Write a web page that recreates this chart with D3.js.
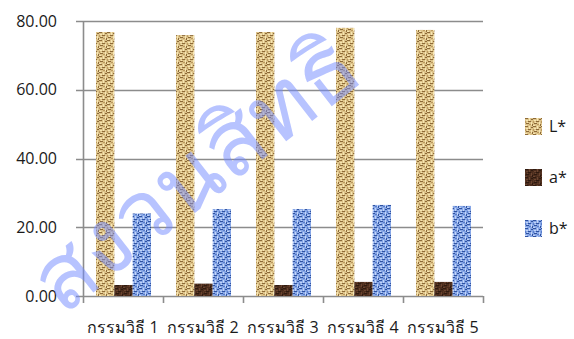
<!DOCTYPE html>
<html>
<head>
<meta charset="utf-8">
<script src="https://cdn.jsdelivr.net/npm/d3@7"></script>
<style>
  html, body { margin: 0; padding: 0; background: #fff; }
  svg { display: block; }
  text { font-family: "Open Sans", "Noto Sans", sans-serif; }
</style>
</head>
<body>
<svg id="chart" width="574" height="339"></svg>
<script>
// Colour measurements per treatment
const categories = ["กรรมวิธี 1", "กรรมวิธี 2", "กรรมวิธี 3", "กรรมวิธี 4", "กรรมวิธี 5"];
const series = ["L*", "a*", "b*"];
const lValues = [76.8, 75.9, 76.8, 78.0, 77.4];
const aValues = [3.2, 3.6, 3.2, 4.1, 4.1];
const bValues = [24.0, 25.3, 25.3, 26.5, 26.2];
const yTicks = [0, 20, 40, 60, 80];
const watermarkText = "สงวนสิทธิ";

const valuesBySeries = { "L*": lValues, "a*": aValues, "b*": bValues };

const W = 574, H = 339;
const svg = d3.select("#chart");
const defs = svg.append("defs");

// Woven textures for the three series
function woven(id, base, dark, light, mid) {
  const p = defs.append("pattern")
    .attr("id", id).attr("patternUnits", "userSpaceOnUse")
    .attr("width", 8).attr("height", 8);
  p.append("rect").attr("width", 8).attr("height", 8).attr("fill", base);
  const cells = [
    [0, 0, 3, 1, dark], [4, 0, 1, 3, light], [6, 1, 2, 1, dark],
    [1, 2, 2, 1, light], [0, 3, 1, 2, mid], [3, 3, 3, 1, dark],
    [6, 4, 1, 3, light], [1, 5, 3, 1, dark], [4, 6, 2, 1, mid],
    [0, 7, 2, 1, light], [7, 6, 1, 2, dark], [2, 4, 1, 1, light]
  ];
  cells.forEach(c => p.append("rect")
    .attr("x", c[0]).attr("y", c[1]).attr("width", c[2]).attr("height", c[3])
    .attr("fill", c[4]));
}
woven("tex-L", "#dcc289", "#8d6a38", "#f7e6b2", "#bd9b60");
woven("tex-a", "#4a2c1c", "#2e1a10", "#6a4430", "#583624");
woven("tex-b", "#86a6e6", "#2f52a0", "#c2d4f7", "#5a7ecb");

const fills = { "L*": "url(#tex-L)", "a*": "url(#tex-a)", "b*": "url(#tex-b)" };

const x0 = d3.scaleBand().domain(categories).range([83, 483]).padding(0);
const x1 = d3.scaleBand().domain(series).range([13, 68]).padding(0);
const y = d3.scaleLinear().domain([0, 80]).range([296, 21]);

// Gridlines with short ticks to the left of the axis
svg.append("g").selectAll("line").data(yTicks).join("line")
  .attr("x1", 76).attr("x2", 483)
  .attr("y1", d => Math.round(y(d)) + 0.5).attr("y2", d => Math.round(y(d)) + 0.5)
  .attr("stroke", "#8c8c8c").attr("stroke-width", 1.6);

// Y axis labels
svg.append("g").selectAll("text").data(yTicks).join("text")
  .attr("x", 57).attr("y", d => y(d))
  .attr("dy", "0.35em")
  .attr("text-anchor", "end")
  .attr("font-size", 16)
  .attr("fill", "#1a1a1a")
  .text(d => d3.format(".2f")(d));

// Vertical axis line
svg.append("line")
  .attr("x1", 83.5).attr("x2", 83.5).attr("y1", y(80)).attr("y2", 303)
  .attr("stroke", "#8c8c8c").attr("stroke-width", 1.6);

// Category boundary ticks
const bounds = categories.map(c => x0(c)).concat([x0.range()[1]]);
svg.append("g").selectAll("line").data(bounds.slice(1)).join("line")
  .attr("x1", d => d + 0.5).attr("x2", d => d + 0.5)
  .attr("y1", y(0)).attr("y2", 303)
  .attr("stroke", "#8c8c8c").attr("stroke-width", 1.6);

// Bars
const groups = svg.append("g").selectAll("g").data(categories).join("g")
  .attr("transform", d => `translate(${x0(d)},0)`);
groups.selectAll("rect")
  .data((c, i) => series.map(s => ({ s, v: valuesBySeries[s][i] })))
  .join("rect")
  .attr("x", d => x1(d.s))
  .attr("width", x1.bandwidth())
  .attr("y", d => y(d.v))
  .attr("height", d => y(0) - y(d.v))
  .attr("fill", d => fills[d.s]);

// Category labels
svg.append("g").selectAll("text").data(categories).join("text")
  .attr("x", d => x0(d) + x0.bandwidth() / 2)
  .attr("y", 333)
  .attr("text-anchor", "middle")
  .attr("font-size", 16)
  .attr("fill", "#1a1a1a")
  .text(d => d);

// Legend
const legend = svg.append("g").selectAll("g").data(series).join("g")
  .attr("transform", (d, i) => `translate(525,${118 + i * 51})`);
legend.append("rect").attr("width", 17).attr("height", 17)
  .attr("fill", d => fills[d]);
legend.append("text").attr("x", 24).attr("y", 8.5).attr("dy", "0.35em")
  .attr("font-size", 16).attr("fill", "#1a1a1a").text(d => d);

// Diagonal watermark, sized so its rotated box stays inside the canvas
const angle = -38;
const wm = svg.append("text")
  .attr("font-size", 100)
  .attr("fill", "#6f87ff")
  .attr("fill-opacity", 0.5)
  .text(watermarkText);
const bb = wm.node().getBBox();
const rad = angle * Math.PI / 180;
const corners = [[bb.x, bb.y], [bb.x + bb.width, bb.y], [bb.x, bb.y + bb.height], [bb.x + bb.width, bb.y + bb.height]]
  .map(([px, py]) => [px * Math.cos(rad) - py * Math.sin(rad), px * Math.sin(rad) + py * Math.cos(rad)]);
const minX = d3.min(corners, c => c[0]), maxX = d3.max(corners, c => c[0]);
const minY = d3.min(corners, c => c[1]), maxY = d3.max(corners, c => c[1]);
const s = Math.min((H - 3) / (maxY - minY), (W - 3) / (maxX - minX));
wm.attr("font-size", 100 * s)
  .attr("transform", `translate(${1.5 - minX * s},${H - 1.5 - maxY * s}) rotate(${angle})`);
</script>
</body>
</html>
